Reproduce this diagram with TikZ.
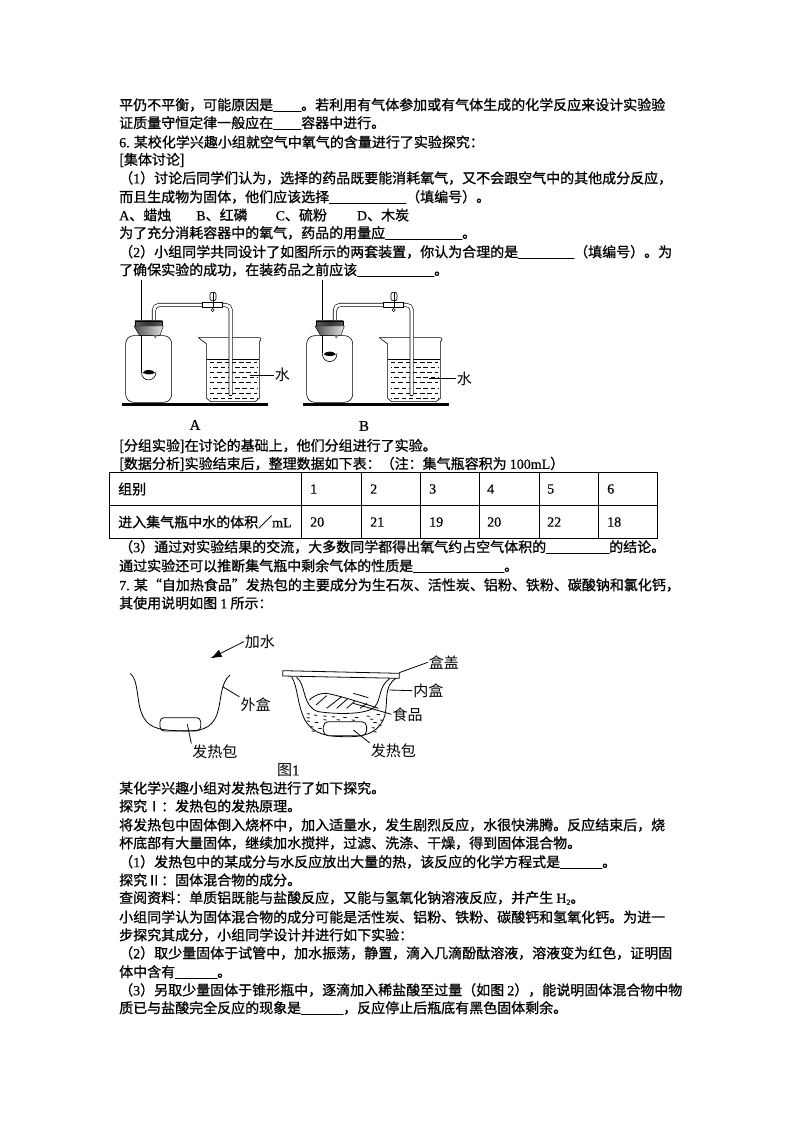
\documentclass[tikz,border=0pt]{standalone}
\usepackage{fontspec}
\usetikzlibrary{arrows.meta}
\setmainfont{Noto Sans CJK SC}[FakeBold=0.9]
\newfontfamily\latf{Liberation Serif}[FakeBold=0.5]
\newfontfamily\labf{Noto Sans CJK SC}
\newcommand{\lat}[1]{{\latf #1}}
\newcommand{\bl}[1]{{\latf\foreach \i in {1,...,#1}{\_}}}
\newcommand{\tline}[3]{\node[txt] (#1) at (119,#2) {#3};}
\newcommand{\apparatus}[6]{%
\begin{scope}[shift={(#1,270)},x=0.3333pt,y=-0.3333pt]
 \draw[glass,rounded corners=8pt] (77,197) rectangle (215,397);
 \draw[glass] (125,30) -- (125,#2);
 \draw[glass,fill=white] (124,#2) .. controls (124,#2+33) and (168,#2+33) .. (168,#2);
 \fill[black] (128,#2+3) .. controls (135,#2-8) and (157,#2-8) .. (165,#2+3) .. controls (155,#2+10) and (138,#2+10) .. cycle;
 \draw[glass,fill=white,rounded corners=3pt] (295,203) -- (487,203) -- (478,216);
 \draw[glass] (478,216) -- (478,385) -- (465,395) -- (332,395) -- (320,385) -- (320,222) -- (295,203);
 \draw[glass] (320,268) -- (478,268);
 \foreach \ry/\ph in {277/0,292/4,307/0,322/4,338/0,355/4,370/0,385/4}
  \draw[glass,dash pattern=on 4.5pt off 2.8pt,dash phase=\ph pt] (330,\ry) -- (472,\ry);
 \draw[line width=0.6pt,double distance=2.8pt,rounded corners=5pt,line cap=butt] (162,155) -- (162,105) -- (392,105) -- (392,375);
 \draw[glass] (387,375) -- (397,375);
 \shade[left color=gray!70!black,right color=gray!70!black,middle color=gray!40!black,draw=black,line width=0.4pt] (105,153) -- (187,153) -- (187,170) -- (105,170) -- cycle;
 \shade[left color=gray!60!black,right color=gray!20,draw=black,line width=0.4pt] (102,168) -- (190,168) -- (180,196) -- (118,196) -- cycle;
 \fill[gray] (160,196) -- (172,196) -- (166,206) -- cycle;
 \draw[glass,fill=white] (307,97) rectangle (367,112);
 \draw[glass,fill=white,rounded corners=2pt] (330,67) rectangle (348,92);
 \draw[glass] (339,67) -- (339,115);
 \draw[glass,fill=white] (338,120) circle[radius=1.6pt];
 \draw[line width=2.6pt] (67,403) -- (503,403);
 \coordinate (#6lead) at (#3,#4);
 \node[lab] (#6w) at (#5,#4) {水};
 \draw[glass] (#6lead) -- (#6w.west);
\end{scope}}
\tikzset{
 txt/.style={anchor=west,inner sep=0pt,font=\fontsize{14}{14}\selectfont},
 lab/.style={inner sep=1pt,font=\fontsize{15}{15}\selectfont\labf},
 glass/.style={line width=0.6pt,draw=black},
 fine/.style={line width=0.8pt,draw=black},
 grid/.style={line width=0.8pt,draw=black},
 cell/.style={anchor=west,inner sep=0pt,font=\fontsize{14}{14}\selectfont},
 num/.style={anchor=west,inner sep=0pt,font=\fontsize{14}{14}\selectfont\latf}
}
\begin{document}
\begin{tikzpicture}[x=1pt,y=-1pt]
\useasboundingbox (0,0) rectangle (794,1123);
\fill[white] (0,0) rectangle (794,1123);
\tline{l1}{105}{平仍不平衡，可能原因是\bl{4}。若利用有气体参加或有气体生成的化学反应来设计实验验}
\tline{l2}{123}{证质量守恒定律一般应在\bl{4}容器中进行。}
\tline{l3}{142}{\lat{6.} 某校化学兴趣小组就空气中氧气的含量进行了实验探究：}
\tline{l4}{160}{[集体讨论]}
\tline{l5}{178}{（\lat{1}）讨论后同学们认为，选择的药品既要能消耗氧气，又不会跟空气中的其他成分反应，}
\tline{l6}{197}{而且生成物为固体，他们应该选择\bl{11}（填编号）。}
\tline{l7}{215}{\lat{A}、蜡烛\hspace{25pt}\lat{B}、红磷\hspace{28pt}\lat{C}、硫粉\hspace{30pt}\lat{D}、木炭}
\tline{l8}{233}{为了充分消耗容器中的氧气，药品的用量应\bl{11}。}
\tline{l9}{252}{（\lat{2}）小组同学共同设计了如图所示的两套装置，你认为合理的是\bl{8}（填编号）。为}
\tline{l10}{270}{了确保实验的成功，在装药品之前应该\bl{11}。}

\apparatus{100}{305}{450}{315}{547}{a}
\apparatus{281}{250}{445}{325}{550}{b}
\node[num,anchor=center,font=\fontsize{15}{15}\selectfont\latf] (labA) at (195,425) {A};
\node[num,anchor=center,font=\fontsize{15}{15}\selectfont\latf] (labB) at (364,426) {B};

\tline{l11}{446}{[分组实验]在讨论的基础上，他们分组进行了实验。}
\tline{l12}{464}{[数据分析]实验结束后，整理数据如下表：（注：集气瓶容积为 \lat{100mL}）}
% table
\draw[grid] (109,472) rectangle (657,538);
\draw[grid] (109,505) -- (657,505);
\foreach \vx in {301,361,420,479,539,598} \draw[grid] (\vx,472) -- (\vx,538);
\node[cell] (c0) at (118,489) {组别};
\node[cell] (d0) at (118,522) {进入集气瓶中水的体积／\lat{mL}};
\foreach \cx/\a/\b in {310/1/20,370/2/21,429/3/19,487/4/20,547/5/22,607/6/18}{
 \node[num] (c\a) at (\cx,489) {\a};
 \node[num] (d\a) at (\cx,522) {\b};
}
\tline{l13}{547}{（\lat{3}）通过对实验结果的交流，大多数同学都得出氧气约占空气体积的\bl{9}的结论。}
\tline{l14}{566}{通过实验还可以推断集气瓶中剩余气体的性质是\bl{13}。}
\tline{l15}{585}{\lat{7.} 某“自加热食品”发热包的主要成分为生石灰、活性炭、铝粉、铁粉、碳酸钠和氯化钙，}
\tline{l16}{603}{其使用说明如图 \lat{1} 所示：}

\begin{scope}[shift={(110,625)},x=0.3333pt,y=-0.3333pt]
 % arrow
 \node[lab] (addw) at (450,50) {加水};
 \coordinate (arrtip) at (302,100);
 \draw[fine,-{Latex[length=11pt,width=8pt]}] (addw.west) -- (arrtip);
 % outer box left
 \draw[fine] (60,145) .. controls (85,160) and (80,230) .. (95,265) .. controls (110,305) and (140,315) .. (200,317) .. controls (270,320) and (305,315) .. (322,265) .. controls (335,225) and (330,175) .. (360,150);
 \draw[fine,rounded corners=4pt] (150,278) rectangle (272,318);
 \node[lab] (outerL) at (437,240) {外盒};
 \coordinate (outerP) at (338,185);
 \draw[fine] (outerP) -- (outerL.north west);
 \node[lab] (packL) at (315,380) {发热包};
 \coordinate (packP) at (232,298);
 \draw[fine] (packP) -- (packL.north west);
 % right box
 \draw[fine,fill=white] (518,137) -- (868,145) -- (868,160) -- (518,153) -- cycle;
 \draw[fine] (545,155) .. controls (565,190) and (560,235) .. (585,285) .. controls (610,330) and (660,335) .. (700,335) .. controls (770,338) and (810,320) .. (825,270) .. controls (835,225) and (820,185) .. (858,160);
 \draw[fine] (560,157) .. controls (590,180) and (575,245) .. (625,260) .. controls (680,268) and (770,270) .. (795,245) .. controls (815,220) and (805,185) .. (838,162);
 \foreach \wx/\wy in {590/266,612/270,640/273,665/275,700/277,735/277,770/273,800/268,590/288,615/292,790/292,810/285,600/305,625/310,785/308,805/300,590/278,780/282,640/284,680/284,725/285,605/318,790/320}
  \draw[fine] (\wx,\wy) -- ++(10,1);
 \draw[fine,fill=white,rounded corners=5pt] (640,290) rectangle (770,332);
 % food
 \draw[fine] (598,225) .. controls (620,205) and (640,205) .. (650,205) .. controls (700,215) and (760,235) .. (805,250);
 \draw[fine] (618,240) -- (650,212);
 \draw[fine] (650,250) -- (695,215);
 \draw[fine] (680,250) -- (712,222);
 \draw[fine] (710,250) -- (735,228);
 \draw[fine] (730,205) -- (775,218);
 \draw[fine] (750,250) -- (770,235);
 \node[lab] (lidL) at (1002,112) {盒盖};
 \coordinate (lidP) at (868,143);
 \draw[fine] (lidP) -- (lidL.west);
 \node[lab] (innerL) at (955,197) {内盒};
 \coordinate (innerP) at (838,195);
 \draw[fine] (innerP) -- (innerL.west);
 \node[lab] (foodL) at (893,268) {食品};
 \coordinate (foodP) at (730,235);
 \draw[fine] (foodP) -- (foodL.west);
 \node[lab] (packR) at (850,378) {发热包};
 \coordinate (packQ) at (730,315);
 \draw[fine] (packQ) -- (packR.north west);
 \node[lab] (figc) at (535,435) {图{\fontsize{15}{15}\selectfont\latf 1}};
\end{scope}

\tline{l17}{788}{某化学兴趣小组对发热包进行了如下探究。}
\tline{l18}{806}{探究Ⅰ：发热包的发热原理。}
\tline{l19}{825}{将发热包中固体倒入烧杯中，加入适量水，发生剧烈反应，水很快沸腾。反应结束后，烧}
\tline{l20}{843}{杯底部有大量固体，继续加水搅拌，过滤、洗涤、干燥，得到固体混合物。}
\tline{l21}{862}{（\lat{1}）发热包中的某成分与水反应放出大量的热，该反应的化学方程式是\bl{6}。}
\tline{l22}{880}{探究Ⅱ：固体混合物的成分。}
\tline{l23}{898}{查阅资料：单质铝既能与盐酸反应，又能与氢氧化钠溶液反应，并产生 \lat{H}\raisebox{-2pt}{\fontsize{8}{8}\selectfont\lat{2}}。}
\tline{l24}{917}{小组同学认为固体混合物的成分可能是活性炭、铝粉、铁粉、碳酸钙和氢氧化钙。为进一}
\tline{l25}{935}{步探究其成分，小组同学设计并进行如下实验：}
\tline{l26}{953}{（\lat{2}）取少量固体于试管中，加水振荡，静置，滴入几滴酚酞溶液，溶液变为红色，证明固}
\tline{l27}{972}{体中含有\bl{6}。}
\tline{l28}{990}{（\lat{3}）另取少量固体于锥形瓶中，逐滴加入稀盐酸至过量（如图 \lat{2}），能说明固体混合物中物}
\tline{l29}{1008}{质已与盐酸完全反应的现象是\bl{6}，反应停止后瓶底有黑色固体剩余。}
\end{tikzpicture}
\end{document}
